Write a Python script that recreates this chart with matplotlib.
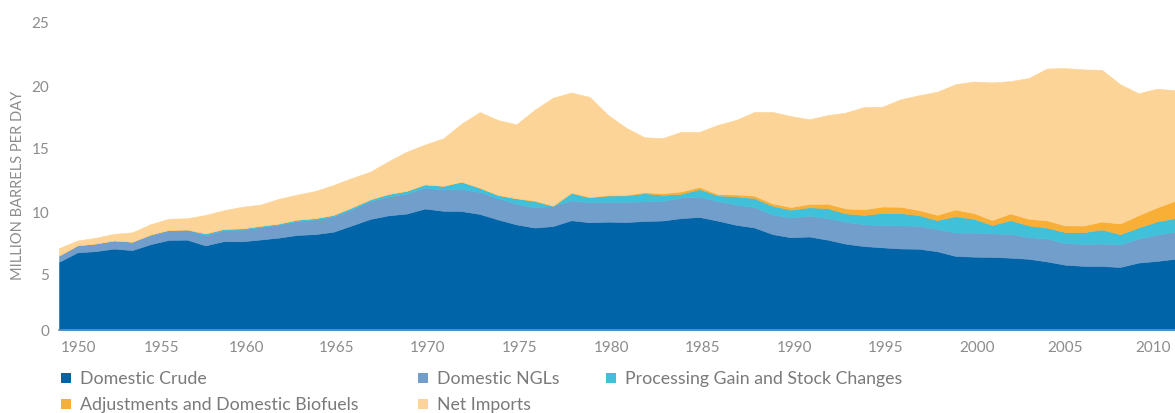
import matplotlib
matplotlib.use("Agg")
import matplotlib.pyplot as plt
import matplotlib.transforms as mtransforms
from matplotlib.patches import Rectangle

plt.rcParams['font.family'] = ['Lato', 'DejaVu Sans']

years = list(range(1950, 2012))

# million barrels per day
crude = [5.41, 6.16, 6.26, 6.46, 6.34, 6.81, 7.15, 7.17, 6.71, 7.05,
         7.04, 7.18, 7.33, 7.54, 7.61, 7.80, 8.30, 8.81, 9.10, 9.24,
         9.64, 9.46, 9.44, 9.21, 8.77, 8.38, 8.13, 8.25, 8.71, 8.55,
         8.60, 8.57, 8.65, 8.69, 8.88, 8.97, 8.68, 8.35, 8.14, 7.61,
         7.36, 7.42, 7.17, 6.85, 6.66, 6.56, 6.47, 6.45, 6.25, 5.88,
         5.82, 5.80, 5.74, 5.65, 5.44, 5.18, 5.09, 5.08, 5.00, 5.35,
         5.48, 5.65]
ngl = [0.50, 0.56, 0.61, 0.65, 0.67, 0.77, 0.80, 0.81, 0.81, 0.88,
       0.93, 0.99, 1.02, 1.10, 1.15, 1.21, 1.28, 1.41, 1.50, 1.59,
       1.66, 1.69, 1.74, 1.74, 1.69, 1.63, 1.60, 1.62, 1.57, 1.58,
       1.57, 1.61, 1.55, 1.56, 1.63, 1.61, 1.55, 1.60, 1.63, 1.55,
       1.56, 1.66, 1.70, 1.74, 1.73, 1.76, 1.83, 1.82, 1.76, 1.85,
       1.91, 1.87, 1.88, 1.72, 1.81, 1.72, 1.74, 1.78, 1.78, 1.91,
       2.07, 2.17]
proc_gain = [0.00, 0.00, 0.00, 0.00, 0.00, 0.00, 0.00, 0.00, 0.15, 0.10,
             0.10, 0.10, 0.10, 0.12, 0.12, 0.13, 0.15, 0.15, 0.20, 0.22,
             0.26, 0.30, 0.60, 0.34, 0.26, 0.45, 0.50, 0.00, 0.60, 0.40,
             0.50, 0.50, 0.66, 0.48, 0.30, 0.60, 0.46, 0.66, 0.70, 0.70,
             0.63, 0.66, 0.80, 0.66, 0.74, 0.98, 0.98, 0.85, 0.71, 1.30,
             1.10, 0.66, 1.10, 0.93, 0.87, 0.87, 0.93, 1.12, 0.82, 0.87,
             1.06, 1.06]
adjust = [0.00, 0.00, 0.00, 0.00, 0.00, 0.00, 0.00, 0.00, 0.00, 0.00,
          0.00, 0.00, 0.00, 0.00, 0.00, 0.00, 0.00, 0.00, 0.00, 0.00,
          0.00, 0.00, 0.00, 0.00, 0.00, 0.00, 0.05, 0.00, 0.03, 0.03,
          0.05, 0.05, 0.08, 0.13, 0.19, 0.18, 0.10, 0.15, 0.20, 0.19,
          0.21, 0.26, 0.36, 0.40, 0.45, 0.50, 0.50, 0.40, 0.42, 0.53,
          0.45, 0.40, 0.53, 0.53, 0.58, 0.53, 0.53, 0.63, 0.85, 0.98,
          1.11, 1.38]
net_imports = [0.59, 0.38, 0.45, 0.52, 0.74, 0.82, 0.88, 0.89, 1.46, 1.47,
               1.71, 1.68, 1.96, 1.98, 2.15, 2.37, 2.33, 2.19, 2.59, 3.10,
               3.16, 3.76, 4.60, 6.01, 5.94, 5.87, 7.20, 8.57, 7.94, 7.94,
               6.36, 5.32, 4.36, 4.37, 4.73, 4.36, 5.49, 5.91, 6.63, 7.26,
               7.22, 6.73, 7.02, 7.60, 8.12, 7.92, 8.53, 9.11, 9.77, 9.95,
               10.44, 10.92, 10.50, 11.17, 12.05, 12.49, 12.39, 12.04, 11.06, 9.68,
               9.43, 8.77]

labels = ['Domestic Crude', 'Domestic NGLs', 'Processing Gain and Stock Changes',
          'Adjustments and Domestic Biofuels', 'Net Imports']
colors = ['#0064a8', '#729ecb', '#41c0da', '#f9ae35', '#fdd498']

W, H = 1175, 414
fig = plt.figure(figsize=(W / 100, H / 100), dpi=100)
ax = fig.add_axes([59 / W, 83 / H, 1 - 59 / W, 315 / H])

polys = ax.stackplot(years, crude, ngl, proc_gain, adjust, net_imports,
                     colors=colors, linewidth=0.4)
for p, c in zip(polys, colors):
    p.set_edgecolor(c)

ax.set_xlim(1950, 2011)
ax.set_ylim(0, 25)
ax.set_yticks([0, 5, 10, 15, 20, 25])
ax.set_xticks(list(range(1950, 2011, 5)))
ax.tick_params(length=0, labelsize=11, colors='#8c8c8c')
ax.tick_params(axis='y', pad=7)
ax.tick_params(axis='x', pad=7)
for s in ['top', 'right', 'left']:
    ax.spines[s].set_visible(False)
ax.spines['bottom'].set_color('#5b93c4')
ax.spines['bottom'].set_linewidth(1.2)

# label nudges like the original (pixels)
down = mtransforms.ScaledTranslation(0, -7 / 100, fig.dpi_scale_trans)
for lab in ax.get_yticklabels()[1:]:
    lab.set_transform(lab.get_transform() + down)
x_nudge = [2, 11, 5, 3, 3, 3, 4, 3, 4, 3, 3, 0, -4]
xl = ax.get_xticklabels()
for lab, dx in zip(xl, x_nudge):
    lab.set_transform(lab.get_transform() +
                      mtransforms.ScaledTranslation(dx / 100, 0, fig.dpi_scale_trans))
xl[0].set_horizontalalignment('left')

fig.text(18 / W, 1 - 185 / H, 'MILLION BARRELS PER DAY', rotation=90,
         ha='center', va='center', fontsize=10.5, color='#8c8c8c')

# legend, two rows as in the original
slots = [(61, 379), (418, 379), (606, 379), (61, 405), (418, 405)]
for (px, py), lab, col in zip(slots, labels, colors):
    fig.patches.append(Rectangle((px / W, 1 - (py + 5) / H), 10 / W, 10 / H,
                                 transform=fig.transFigure, facecolor=col,
                                 edgecolor='none'))
    fig.text((px + 19) / W, 1 - py / H, lab, ha='left', va='center',
             fontsize=12.8, color='#7a7a7a')

fig.savefig('out.png', dpi=100)
